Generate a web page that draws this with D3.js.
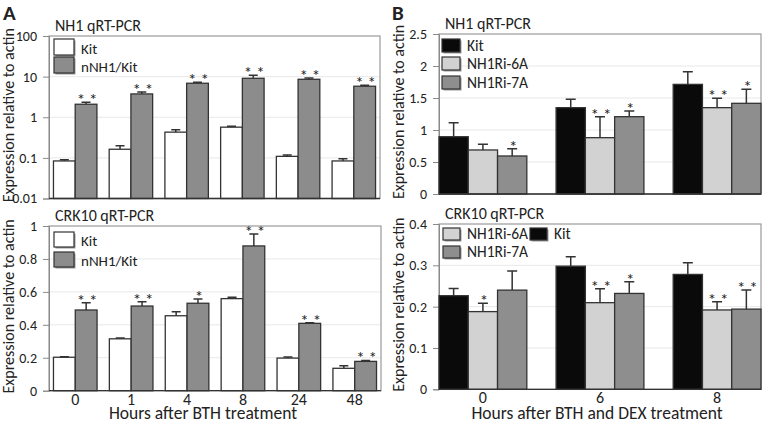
<!DOCTYPE html>
<html>
<head>
<meta charset="utf-8">
<script src="https://cdn.jsdelivr.net/npm/d3@7"></script>
<style>
body { margin: 0; background: #fff; }
svg text { font-family: Carlito, Lato, "Open Sans", sans-serif; fill: #222; }
</style>
</head>
<body>
<script>
// ---- data ----
var hoursA = ["0", "1", "4", "8", "24", "48"];
var hoursB = ["0", "6", "8"];

// panel A, NH1 (log axis)
var nh1Kit     = [0.084, 0.163, 0.43, 0.57, 0.109, 0.084];
var nh1KitErr  = [0.006, 0.037, 0.06, 0.03, 0.009, 0.011];
var nh1Nnh1    = [2.09, 3.75, 6.87, 9.1, 8.6, 5.8];
var nh1Nnh1Err = [0.25, 0.45, 0.41, 1.7, 0.7, 0.3];
var nh1Stars   = ["**", "**", "**", "**", "**", "**"];

// panel A, CRK10
var crkKit     = [0.203, 0.315, 0.455, 0.559, 0.198, 0.136];
var crkKitErr  = [0.003, 0.005, 0.025, 0.008, 0.006, 0.016];
var crkNnh1    = [0.49, 0.514, 0.531, 0.879, 0.409, 0.178];
var crkNnh1Err = [0.044, 0.026, 0.026, 0.072, 0.003, 0.006];
var crkStars   = ["**", "**", "*", "**", "**", "**"];

// panel B, NH1
var bNh1Kit    = [0.895, 1.349, 1.713];
var bNh1KitErr = [0.219, 0.131, 0.198];
var bNh1R6     = [0.688, 0.88, 1.349];
var bNh1R6Err  = [0.088, 0.328, 0.146];
var bNh1R6Star = ["", "**", "**"];
var bNh1R7     = [0.594, 1.208, 1.417];
var bNh1R7Err  = [0.114, 0.089, 0.219];
var bNh1R7Star = ["*", "*", "*"];

// panel B, CRK10
var bCrkKit    = [0.2265, 0.298, 0.278];
var bCrkKitErr = [0.0175, 0.023, 0.028];
var bCrkR6     = [0.188, 0.2096, 0.192];
var bCrkR6Err  = [0.02, 0.034, 0.02];
var bCrkR6Star = ["*", "**", "**"];
var bCrkR7     = [0.240, 0.232, 0.194];
var bCrkR7Err  = [0.046, 0.028, 0.046];
var bCrkR7Star = ["", "*", "**"];

var ticksNh1A = [0.01, 0.1, 1, 10, 100];
var ticksCrkA = [0, 0.2, 0.4, 0.6, 0.8, 1];
var ticksNh1B = [0, 0.5, 1, 1.5, 2, 2.5];
var ticksCrkB = [0, 0.1, 0.2, 0.3, 0.4];

var cWhite = "#ffffff", cGray = "#8c8c8c", cBlack = "#0a0a0a",
    cLight = "#d2d2d2", cDark = "#8e8e8e";

var W = 764, H = 423;
var svg = d3.select("body").append("svg")
    .attr("width", W)
    .attr("height", H);

function drawPanel(p) {
    var g = svg.append("g");

    var x = d3.scaleBand()
        .domain(p.cats)
        .range([p.left, p.right])
        .paddingInner(p.padIn)
        .paddingOuter(p.padOut);

    var xs = d3.scaleBand()
        .domain(p.series.map(function(s) { return s.name; }))
        .range([0, x.bandwidth()]);

    var y = p.log ? d3.scaleLog() : d3.scaleLinear();
    y.domain(p.domain).range([p.bottom, p.top]);

    // grid
    g.selectAll(".grid")
        .data(p.ticks.slice(1, -1))
        .enter().append("line")
        .attr("x1", p.left).attr("x2", p.right)
        .attr("y1", function(d) { return y(d); })
        .attr("y2", function(d) { return y(d); })
        .attr("stroke", "#e8e8e8")
        .attr("stroke-width", 1);

    // frame
    g.append("rect")
        .attr("x", p.left).attr("y", p.top)
        .attr("width", p.right - p.left)
        .attr("height", p.bottom - p.top)
        .attr("fill", "none")
        .attr("stroke", "#9a9a9a")
        .attr("stroke-width", 1.2);

    var yAxis = d3.axisLeft(y)
        .tickValues(p.ticks)
        .tickFormat(function(d) { return String(d); })
        .tickSize(6)
        .tickPadding(6);

    var ya = g.append("g")
        .attr("transform", "translate(" + p.left + ",0)")
        .call(yAxis);
    ya.select(".domain").attr("stroke", "#8a8a8a");
    ya.selectAll(".tick line").attr("stroke", "#8a8a8a");
    ya.selectAll(".tick text")
        .attr("font-size", 14)
        .attr("fill", "#222")
        .style("font-family", "Carlito, Lato, sans-serif");

    // bars
    p.series.forEach(function(s) {
        var grp = g.append("g");
        var rows = p.cats.map(function(c, i) {
            return {c: c, v: s.values[i], e: s.errs[i], star: s.stars ? s.stars[i] : ""};
        });
        grp.selectAll("rect")
            .data(rows)
            .enter().append("rect")
            .attr("x", function(d) { return x(d.c) + xs(s.name); })
            .attr("y", function(d) { return y(d.v); })
            .attr("width", xs.bandwidth())
            .attr("height", function(d) { return p.bottom - y(d.v); })
            .attr("fill", s.color)
            .attr("stroke", "#333")
            .attr("stroke-width", 1.3);

        grp.selectAll(".err")
            .data(rows)
            .enter().append("path")
            .attr("d", function(d) {
                var cx = x(d.c) + xs(s.name) + xs.bandwidth() / 2;
                var y0 = y(d.v), y1 = y(d.v + d.e);
                return "M" + cx + "," + y0 + "V" + y1 +
                    "M" + (cx - p.cap) + "," + y1 + "H" + (cx + p.cap);
            })
            .attr("stroke", "#333")
            .attr("stroke-width", 1.5)
            .attr("fill", "none");

        grp.selectAll(".star")
            .data(rows.filter(function(d) { return d.star; }))
            .enter().append("text")
            .attr("x", function(d) { return x(d.c) + xs(s.name) + xs.bandwidth() / 2 + 1; })
            .attr("y", function(d) { return y(d.v + d.e) + 3; })
            .attr("text-anchor", "middle")
            .attr("font-size", 17)
            .attr("fill", "#222")
            .text(function(d) { return d.star.split("").join(" "); });
    });

    // bottom axis line
    g.append("line")
        .attr("x1", p.left).attr("x2", p.right)
        .attr("y1", p.bottom).attr("y2", p.bottom)
        .attr("stroke", "#333")
        .attr("stroke-width", 1.3);

    // x tick labels
    if (p.xlabels) {
        g.selectAll(".xl")
            .data(p.cats)
            .enter().append("text")
            .attr("x", function(d) { return x(d) + x.bandwidth() / 2; })
            .attr("y", p.bottom + 14)
            .attr("text-anchor", "middle")
            .attr("font-size", 16)
            .text(function(d) { return d; });
    }

    // title
    g.append("text")
        .attr("x", p.left + 6)
        .attr("y", p.top - 5.5)
        .attr("font-size", 16)
        .text(p.title);

    // y label
    g.append("text")
        .attr("transform", "translate(" + (p.left - 35) + "," + ((p.top + p.bottom) / 2 - 2) + ") rotate(-90)")
        .attr("text-anchor", "middle")
        .attr("font-size", 16)
        .text("Expression relative to actin");

    // legend
    p.legend.forEach(function(l) {
        var lx = p.left + l.dx, ly = p.top + l.dy;
        var s = p.series.filter(function(q) { return q.name === l.name; })[0];
        g.append("rect")
            .attr("x", lx + 1.5).attr("y", ly + 1.5)
            .attr("width", p.boxW).attr("height", p.boxH)
            .attr("fill", "#9a9a9a");
        g.append("rect")
            .attr("x", lx).attr("y", ly)
            .attr("width", p.boxW).attr("height", p.boxH)
            .attr("fill", s.color)
            .attr("stroke", "#333")
            .attr("stroke-width", 1.2);
        g.append("text")
            .attr("x", lx + p.boxW + 7)
            .attr("y", ly + p.boxH - 1)
            .attr("font-size", p.legSize)
            .text(l.name);
    });
}

drawPanel({
    cats: hoursA, left: 49, right: 380, top: 36, bottom: 198.5,
    padIn: 0.22, padOut: 0.08, log: true, domain: [0.01, 100], ticks: ticksNh1A,
    cap: 4.5, title: "NH1 qRT-PCR",
    series: [
        {name: "Kit", values: nh1Kit, errs: nh1KitErr, color: cWhite},
        {name: "nNH1/Kit", values: nh1Nnh1, errs: nh1Nnh1Err, color: cGray, stars: nh1Stars}
    ],
    boxW: 20, boxH: 16, legSize: 15,
    legend: [{name: "Kit", dx: 5, dy: 3}, {name: "nNH1/Kit", dx: 5, dy: 21}]
});

drawPanel({
    cats: hoursA, left: 49, right: 381, top: 226, bottom: 390.7,
    padIn: 0.22, padOut: 0.08, log: false, domain: [0, 1], ticks: ticksCrkA,
    cap: 4.5, title: "CRK10 qRT-PCR", xlabels: true,
    series: [
        {name: "Kit", values: crkKit, errs: crkKitErr, color: cWhite},
        {name: "nNH1/Kit", values: crkNnh1, errs: crkNnh1Err, color: cGray, stars: crkStars}
    ],
    boxW: 20, boxH: 15, legSize: 15,
    legend: [{name: "Kit", dx: 5, dy: 6}, {name: "nNH1/Kit", dx: 5, dy: 26}]
});

drawPanel({
    cats: hoursB, left: 439, right: 761, top: 34, bottom: 194,
    padIn: 0.25, padOut: 0, log: false, domain: [0, 2.5], ticks: ticksNh1B,
    cap: 5, title: "NH1 qRT-PCR",
    series: [
        {name: "Kit", values: bNh1Kit, errs: bNh1KitErr, color: cBlack},
        {name: "NH1Ri-6A", values: bNh1R6, errs: bNh1R6Err, color: cLight, stars: bNh1R6Star},
        {name: "NH1Ri-7A", values: bNh1R7, errs: bNh1R7Err, color: cDark, stars: bNh1R7Star}
    ],
    boxW: 18, boxH: 13, legSize: 15.5,
    legend: [{name: "Kit", dx: 3, dy: 5}, {name: "NH1Ri-6A", dx: 3, dy: 23}, {name: "NH1Ri-7A", dx: 3, dy: 42}]
});

drawPanel({
    cats: hoursB, left: 439, right: 761, top: 224, bottom: 389.3,
    padIn: 0.25, padOut: 0, log: false, domain: [0, 0.4], ticks: ticksCrkB,
    cap: 5, title: "CRK10 qRT-PCR", xlabels: true,
    series: [
        {name: "Kit", values: bCrkKit, errs: bCrkKitErr, color: cBlack},
        {name: "NH1Ri-6A", values: bCrkR6, errs: bCrkR6Err, color: cLight, stars: bCrkR6Star},
        {name: "NH1Ri-7A", values: bCrkR7, errs: bCrkR7Err, color: cDark, stars: bCrkR7Star}
    ],
    boxW: 17, boxH: 12, legSize: 15.5,
    legend: [{name: "NH1Ri-6A", dx: 4, dy: 4}, {name: "Kit", dx: 91, dy: 4}, {name: "NH1Ri-7A", dx: 4, dy: 22}]
});

// x titles and panel letters
svg.append("text")
    .attr("x", 203).attr("y", 419)
    .attr("text-anchor", "middle")
    .attr("font-size", 17.5)
    .text("Hours after BTH treatment");

svg.append("text")
    .attr("x", 597).attr("y", 419)
    .attr("text-anchor", "middle")
    .attr("font-size", 17.5)
    .text("Hours after BTH and DEX treatment");

svg.append("text")
    .attr("x", 3).attr("y", 20)
    .attr("font-size", 21)
    .attr("font-weight", "bold")
    .text("A");

svg.append("text")
    .attr("x", 392).attr("y", 20)
    .attr("font-size", 21)
    .attr("font-weight", "bold")
    .text("B");
</script>
</body>
</html>
